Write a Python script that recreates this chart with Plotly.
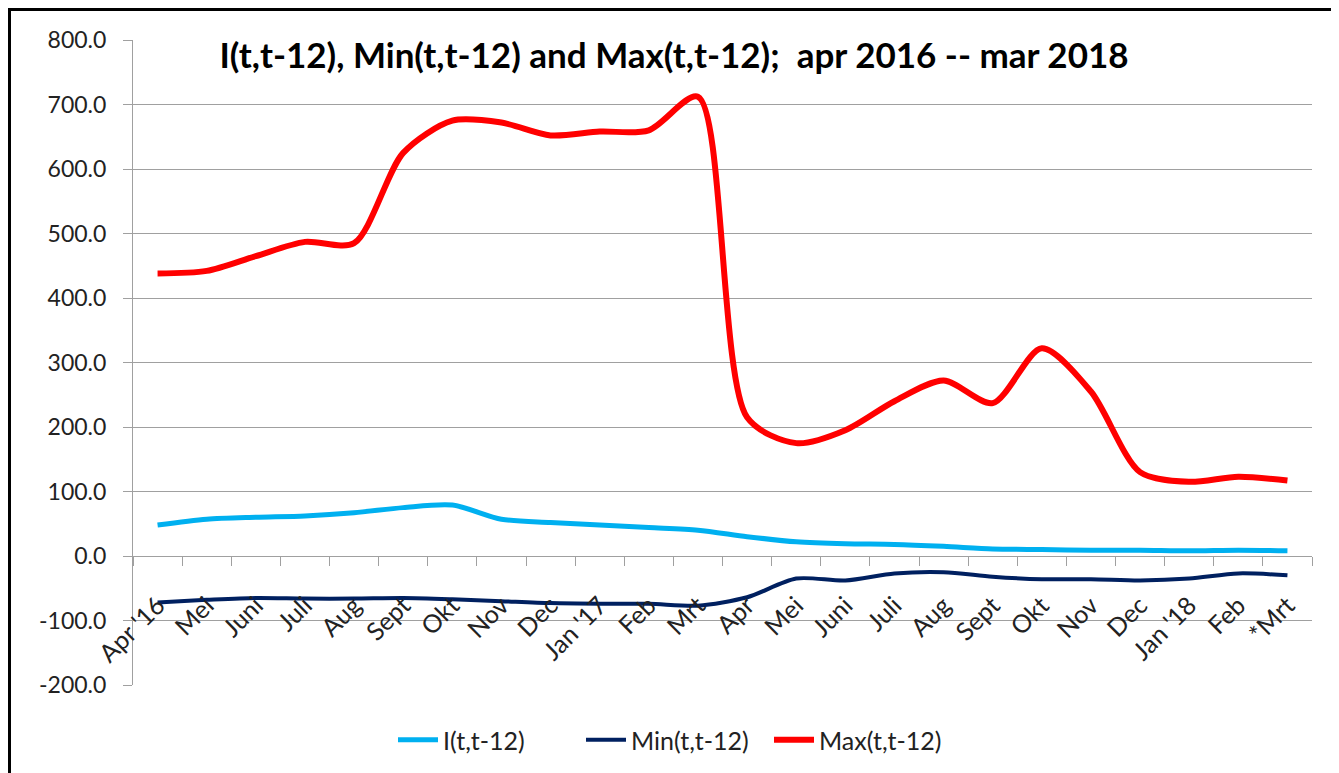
import plotly.graph_objects as go

months = ["Apr '16", "Mei", "Juni", "Juli", "Aug", "Sept", "Okt", "Nov", "Dec",
          "Jan '17", "Feb", "Mrt", "Apr", "Mei", "Juni", "Juli", "Aug", "Sept",
          "Okt", "Nov", "Dec", "Jan '18", "Feb", "*Mrt"]

i_vals = [48, 57, 60, 62, 67, 75, 79, 57, 52, 48, 44, 40,
          30, 22, 19, 18, 15, 11, 10, 9, 9, 8, 9, 8]
min_vals = [-72, -68, -65, -66, -66, -65, -67, -70, -73, -74, -74, -77,
            -64, -35, -38, -27, -25, -32, -36, -36, -38, -35, -27, -30]
max_vals = [438, 442, 465, 487, 485, 625, 675, 672, 652, 658, 660, 712,
            215, 175, 195, 240, 272, 237, 322, 255, 130, 115, 123, 117]

y_ticks = [-200, -100, 0, 100, 200, 300, 400, 500, 600, 700, 800]
y_tick_text = ["-200.0", "-100.0", "0.0", "100.0", "200.0", "300.0",
               "400.0", "500.0", "600.0", "700.0", "800.0"]

x = list(range(len(months)))
FONT = "Lato"

fig = go.Figure()
fig.add_trace(go.Scatter(x=x, y=i_vals, name="I(t,t-12)", mode="lines",
                         line=dict(color="#00B0F0", width=5, shape="spline", smoothing=0.8)))
fig.add_trace(go.Scatter(x=x, y=min_vals, name="Min(t,t-12)", mode="lines",
                         line=dict(color="#002060", width=4, shape="spline", smoothing=0.8)))
fig.add_trace(go.Scatter(x=x, y=max_vals, name="Max(t,t-12)", mode="lines",
                         line=dict(color="#FF0000", width=6, shape="spline", smoothing=0.8)))

OFF = 8  # page offset of the plot div
W, H = 1339, 773
L, T = 133 - OFF, 40 - OFF
R = W - (1312 - OFF)
B = H - (685 - OFF)
pw, ph = W - L - R, H - T - B
zero_pos = (0 - (-200)) / 1000.0

def px_to_paper_x(px):
    return (px - OFF - L) / pw

def px_to_paper_y(py):
    return (H - B - (py - OFF)) / ph

fig.update_layout(
    width=W, height=H,
    margin=dict(l=L, r=R, t=T, b=B, autoexpand=False),
    paper_bgcolor="white", plot_bgcolor="white",
    font=dict(family=FONT, color="#222222"),
    title=dict(text="<b>I(t,t-12), Min(t,t-12) and Max(t,t-12);\u00a0 apr 2016 -- mar 2018</b>",
               x=px_to_paper_x(674), xanchor="center", xref="paper",
               y=px_to_paper_y(56), yanchor="middle", yref="paper",
               font=dict(family=FONT, size=35, color="black")),
    showlegend=True,
    legend=dict(orientation="h", x=px_to_paper_x(675), xanchor="center",
                y=px_to_paper_y(740), yanchor="middle",
                font=dict(family=FONT, size=25, color="#222222"), itemwidth=40,
                entrywidth=133, entrywidthmode="pixels",
                bgcolor="rgba(0,0,0,0)"),
    xaxis=dict(
        range=[-0.5, len(months) - 0.5],
        tickmode="array", tickvals=x, ticktext=months,
        tickangle=-45, tickfont=dict(family=FONT, size=25, color="#222222"),
        ticks="outside", ticklen=24, tickcolor="rgba(0,0,0,0)",
        minor=dict(tick0=-0.5, dtick=1, ticks="outside", ticklen=9, tickcolor="#A0A0A0",
                   showgrid=False),
        showgrid=False, zeroline=False,
        showline=True, linecolor="#A0A0A0", linewidth=1,
        anchor="free", position=zero_pos,
        fixedrange=True,
    ),
    yaxis=dict(
        range=[-200, 800], tickmode="array", tickvals=y_ticks, ticktext=y_tick_text,
        tickfont=dict(family=FONT, size=23, color="#222222"),
        showgrid=True, gridcolor="#A0A0A0", gridwidth=1,
        zeroline=False,
        showline=True, linecolor="#A0A0A0", linewidth=1,
        ticks="outside", ticklen=9, tickcolor="#A0A0A0",
        ticklabelstandoff=12,
    ),
    shapes=[dict(type="rect", xref="paper", yref="paper",
                 x0=px_to_paper_x(9.5), x1=px_to_paper_x(1370),
                 y0=px_to_paper_y(800), y1=px_to_paper_y(9.5),
                 line=dict(color="black", width=3), fillcolor="rgba(0,0,0,0)",
                 layer="above")],
)

fig.write_html("out.html")
